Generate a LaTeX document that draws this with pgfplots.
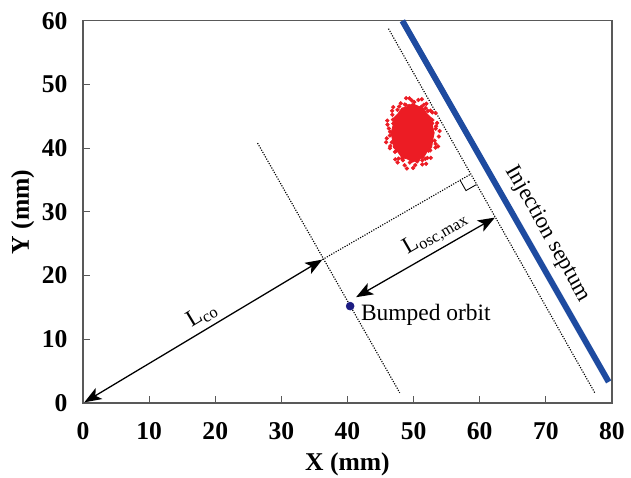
\documentclass[border=0pt]{standalone}
\usepackage{pgfplots}
\pgfplotsset{compat=1.18}
\usepackage{fontspec}
\setmainfont{Liberation Serif}
\usetikzlibrary{arrows.meta}

\definecolor{septum}{RGB}{30,75,160}
\definecolor{beam}{RGB}{236,28,36}
\definecolor{orbit}{RGB}{28,28,130}

\begin{document}
\begin{tikzpicture}
\begin{axis}[
  scale only axis, width=372pt, height=268.8pt,
  xmin=0, xmax=80, ymin=0, ymax=60,
  xtick={0,10,...,80}, ytick={0,10,...,60},
  tick pos=left, tick align=inside,
  axis line style={black!65, line width=0.8pt}, major tick style={black!65, line width=0.8pt}, major tick length=5pt,
  ticklabel style={font=\fontsize{18}{20}\selectfont\bfseries},
  xticklabel style={yshift=-10pt},
  yticklabel style={xshift=-7.4pt},
  /pgf/number format/assume math mode=true,
  xlabel={X (mm)}, ylabel={Y (mm)},
  label style={font=\fontsize{18}{20}\selectfont\bfseries},
  xlabel style={yshift=-2.5pt}, ylabel style={yshift=-1.5pt},
  clip=false,
  >={Stealth[length=12pt,width=9pt,inset=3pt]},
]
% septum and guide lines
\addplot[septum, line width=4.2pt] coordinates {(48.3,60) (79.5,3.3)};
\addplot[black, densely dotted, line width=0.8pt] coordinates {(26.4,40.8) (47.9,1.6)};
\addplot[black, densely dotted, line width=0.8pt] coordinates {(46.2,58.75) (77.4,1.6)};
\addplot[black, densely dotted, line width=0.8pt] coordinates {(36.2,22.5) (58.6,35.9)};
% right angle mark
\addplot[black, line width=0.6pt] coordinates {(59.49,34.27) (57.92,33.34) (57.03,34.97)};

% beam core
\addplot[fill=beam, draw=beam, line width=0.6pt] coordinates {
(53.11,42.40) (52.85,43.51) (52.73,44.70) (52.02,45.39) (51.48,46.29) (50.66,46.59)
(49.85,46.99) (49.05,46.49) (48.22,46.29) (47.65,45.43) (46.97,44.70) (46.88,43.50)
(46.59,42.40) (46.81,41.28) (46.97,40.10) (47.65,39.37) (48.22,38.51) (49.05,38.31)
(49.85,37.81) (50.66,38.21) (51.48,38.51) (52.02,39.41) (52.73,40.10) (52.89,41.28)} -- cycle;
% beam halo particles
\addplot[only marks, mark=*, mark size=1.3pt, color=beam] coordinates {
(53.34,43.07) (53.56,43.96) (52.84,44.41) (52.82,45.60) (52.17,45.83)
(51.93,46.98) (51.18,46.50) (50.72,47.57) (50.10,47.24) (49.37,47.82)
(48.82,46.77) (48.06,47.04) (47.57,46.02) (46.75,45.86) (46.88,44.48)
(46.05,43.71) (46.45,42.56) (45.94,41.55) (46.70,40.90) (46.42,39.99)
(47.18,39.42) (47.23,38.24) (48.23,38.38) (48.65,37.31) (49.43,37.74)
(49.92,36.89) (50.54,37.91) (51.31,37.44) (51.77,38.33) (52.60,38.48)
(52.51,39.64) (53.31,40.08) (53.17,41.17) (53.83,41.82)
(53.92,42.69) (53.33,45.51) (51.24,47.67) (48.87,47.84) (46.92,46.44)
(46.02,44.32) (45.85,40.92) (47.58,37.75) (48.99,36.81) (51.89,37.54)
(53.69,40.26) (52.81,43.88) (49.31,46.62) (46.93,43.87) (47.44,39.61)
(50.67,38.16) (52.26,39.61)
(53.40,43.44) (52.55,45.88) (51.55,46.81) (49.72,47.49) (47.82,46.54)
(46.78,45.25) (46.26,43.10) (46.47,40.32) (47.72,38.36) (50.24,37.33)
(52.08,38.46) (53.33,40.66) (51.83,46.28) (48.67,46.86) (46.42,41.99)
(48.39,38.10) (51.31,38.10)};

% arrows
\addplot[black, line width=0.9pt, <->] coordinates {(0.2,0.1) (36.2,22.5)};
\addplot[black, line width=0.9pt, <->] coordinates {(41.3,16.6) (62.3,29.1)};

% bumped orbit
\addplot[only marks, mark=*, mark size=2.8pt, color=orbit] coordinates {(40.4,15.2)};

\node[rotate=31, anchor=south, font=\fontsize{16.5}{18}\selectfont] at (axis cs:19.1,11.9) {L\textsubscript{co}};
\node[rotate=30, anchor=south, font=\fontsize{16.5}{18}\selectfont] at (axis cs:54.5,24.5) {L\textsubscript{osc,max}};
\node[anchor=west, inner sep=0pt, font=\fontsize{16.5}{18}\selectfont] at (axis cs:42.0,13.75) {Bumped orbit};
\node[rotate=-60.5, anchor=south, font=\fontsize{16}{18}\selectfont] at (axis cs:68.3,25.4) {Injection septum};
\end{axis}
\pgfresetboundingbox
\path ([shift={(-58.4pt,-52.7pt)}]current axis.south west) rectangle ([shift={(13.4pt,14.6pt)}]current axis.north east);
\end{tikzpicture}
\end{document}
